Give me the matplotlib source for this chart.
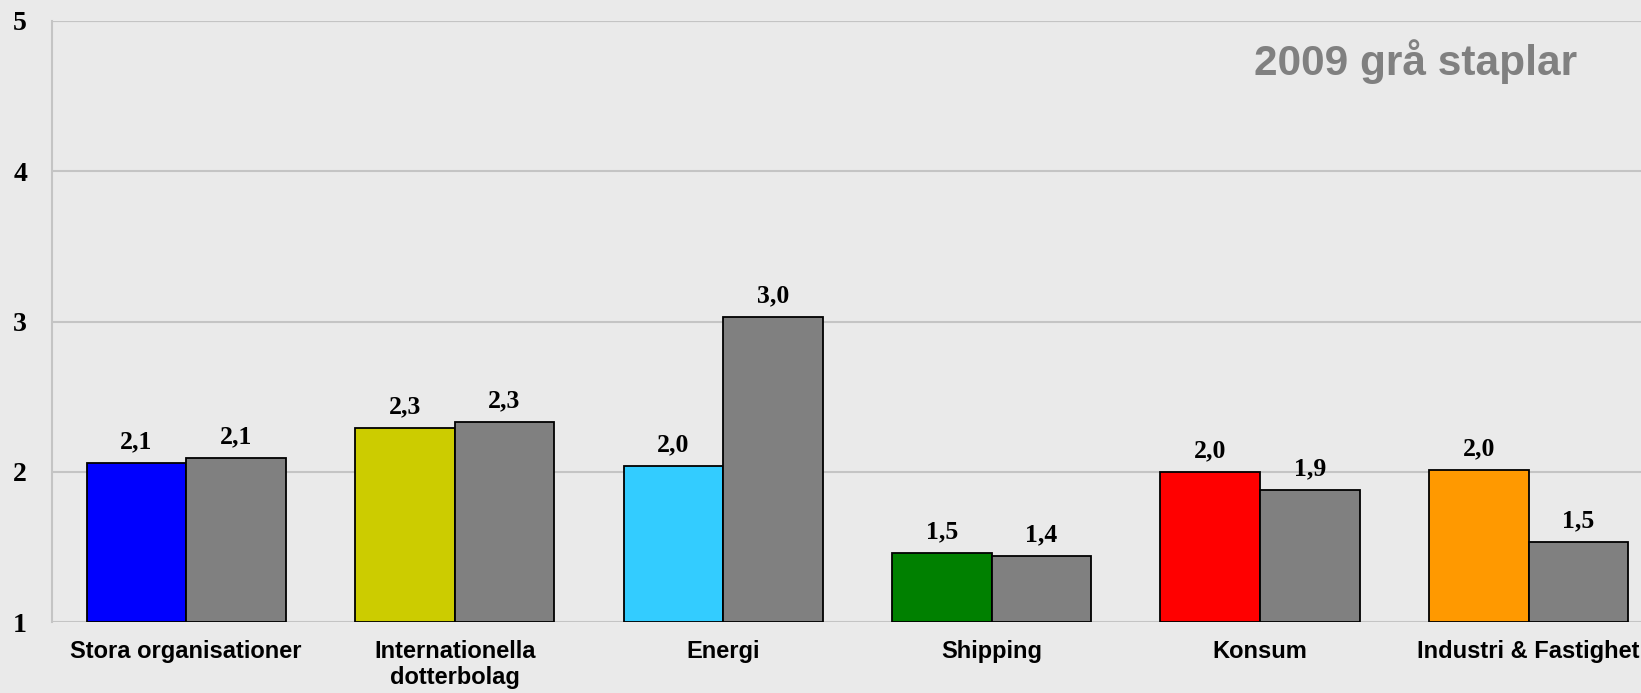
import numpy as np
import matplotlib
matplotlib.use("Agg")
import matplotlib.pyplot as plt

# data (2009 = gray bars)
categories = ["Stora organisationer", "Internationella\ndotterbolag", "Energi",
              "Shipping", "Konsum", "Industri & Fastighet"]
values_now = [2.06, 2.29, 2.04, 1.46, 2.00, 2.01]
values_2009 = [2.09, 2.33, 3.03, 1.44, 1.88, 1.53]
colors_now = ["#0000FF", "#CCCC00", "#33CCFF", "#008000", "#FF0000", "#FF9900"]
yticks = [1, 2, 3, 4, 5]

BG = "#EAEAEA"
GRID = "#C4C4C4"
W = 0.371

fig = plt.figure(figsize=(16.41, 6.93), dpi=100, facecolor=BG)
ax = fig.add_axes([52/1641, (693-622)/693, 1 - 52/1641, (622-21)/693])
ax.set_facecolor(BG)

x = np.arange(len(categories))
b1 = ax.bar(x - W/2, np.array(values_now) - 1, bottom=1, width=W,
            color=colors_now, edgecolor="black", linewidth=1.3, zorder=3)
b2 = ax.bar(x + W/2, np.array(values_2009) - 1, bottom=1, width=W,
            color="#808080", edgecolor="black", linewidth=1.3, zorder=3)

for bars, vals in ((b1, values_now), (b2, values_2009)):
  for r, v in zip(bars, vals):
    ax.annotate(f"{v:.1f}".replace(".", ","),
                (r.get_x() + r.get_width()/2, v),
                xytext=(0, 7), textcoords="offset points",
                ha="center", va="bottom", fontsize=18.5, fontweight="bold",
                family="Liberation Serif", color="black")

ax.set_xlim(-0.5, 5.419)
ax.set_ylim(1, 5)
ax.set_yticks(yticks)
ax.set_yticklabels([str(t) for t in yticks], fontsize=20, fontweight="bold",
                   family="Liberation Serif")
ax.set_xticks(x)
ax.set_xticklabels(categories, fontsize=17, fontweight="bold",
                   family="Liberation Sans", linespacing=1.15)
ax.tick_params(axis="y", length=0, pad=18)
ax.tick_params(axis="x", length=0, pad=13)

ax.grid(axis="y", color=GRID, linewidth=1.5, zorder=0)
for s in ("top", "right", "bottom"):
  ax.spines[s].set_visible(False)
ax.spines["left"].set_color(GRID)
ax.spines["left"].set_linewidth(1.5)
ax.axhline(5, color=GRID, linewidth=1.5, zorder=1)

ax.text(0.960, 0.910, "2009 grå staplar", transform=ax.transAxes,
        ha="right", va="baseline", fontsize=30.5, fontweight="bold",
        family="Liberation Sans", color="#808080")

fig.savefig("out.png", dpi=100, facecolor=BG)
